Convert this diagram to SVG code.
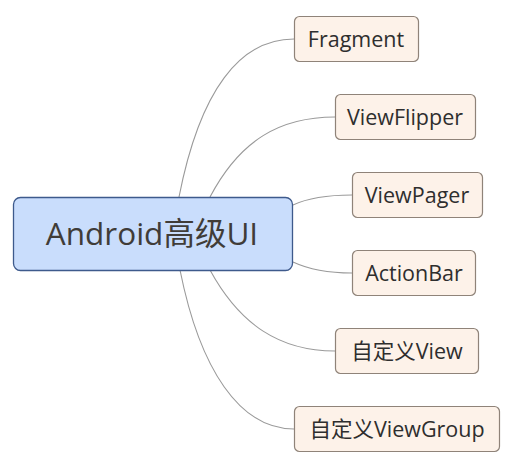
<svg xmlns="http://www.w3.org/2000/svg" width="517" height="467" viewBox="0 0 517 467">
<style>
.c{fill:none;stroke:#9a9a9a;stroke-width:1.1}
.n rect{fill:#fdf2e9;stroke:#8f8379;stroke-width:1.2}
.n text{font-family:"Open Sans","Noto Sans","Noto Sans CJK SC",sans-serif;font-size:21.5px;fill:#2e2e2e;text-anchor:middle}
#root rect{fill:#c9ddfc;stroke:#3e5a8c;stroke-width:1.3}
#root text{font-family:"Open Sans","Noto Sans","Noto Sans CJK SC",sans-serif;font-size:31.5px;fill:#403c38;text-anchor:middle}
</style>
<rect width="517" height="467" fill="#fff"/>
<g id="connectors">
<path class="c" d="M179,197 C200,90 240,39 294,39"/>
<path class="c" d="M210,197 C240,140 280,117 335,117"/>
<path class="c" d="M293,205 C310,197 330,195 352,195"/>
<path class="c" d="M293,262 C310,270 330,273 352,273"/>
<path class="c" d="M210,270 C240,325 280,351 335,351"/>
<path class="c" d="M180,270 C200,370 240,429 294,429"/>
</g>
<g id="root"><rect x="13.5" y="197.5" width="279" height="73" rx="7"/><text x="152" y="245">Android高级UI</text></g>
<g id="n1" class="n"><rect x="294.5" y="16.5" width="124" height="45" rx="5"/><text x="356" y="46.5">Fragment</text></g>
<g id="n2" class="n"><rect x="335.5" y="94.5" width="140" height="45" rx="5"/><text x="405" y="124.5">ViewFlipper</text></g>
<g id="n3" class="n"><rect x="352.5" y="172.5" width="130" height="45" rx="5"/><text x="417" y="202.5">ViewPager</text></g>
<g id="n4" class="n"><rect x="352.5" y="250.5" width="123" height="45" rx="5"/><text x="414" y="280.5">ActionBar</text></g>
<g id="n5" class="n"><rect x="335.5" y="328.5" width="143" height="45" rx="5"/><text x="407" y="358.5">自定义View</text></g>
<g id="n6" class="n"><rect x="294.5" y="406.5" width="205" height="45" rx="5"/><text x="397" y="436.5">自定义ViewGroup</text></g>
</svg>
